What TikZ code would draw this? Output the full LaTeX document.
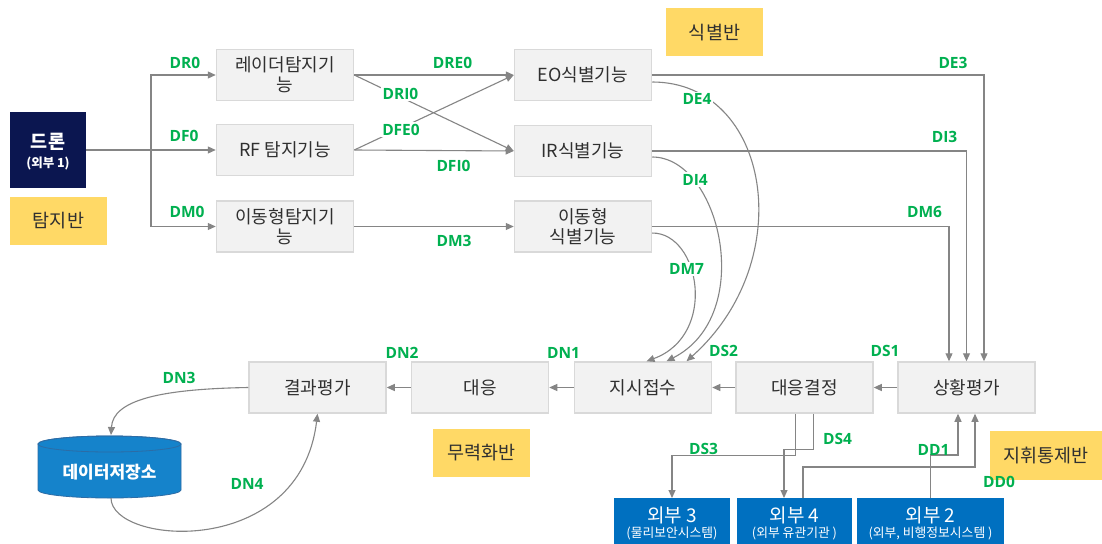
\documentclass[tikz,border=0pt]{standalone}
\usepackage{fontspec}
\setmainfont{Noto Sans CJK KR}
\newfontfamily\lblfont{Open Sans}
\usetikzlibrary{arrows.meta}
\definecolor{boxfill}{HTML}{F2F2F2}
\definecolor{boxline}{HTML}{D9D9D9}
\definecolor{linkgray}{HTML}{858585}
\definecolor{lblgreen}{HTML}{00B050}
\definecolor{teamgold}{HTML}{FFD966}
\definecolor{dronenavy}{HTML}{0B1650}
\definecolor{extblue}{HTML}{0070C0}
\definecolor{cylfill}{HTML}{1583CB}
\definecolor{cylline}{HTML}{2C6CA6}
\definecolor{boxtext}{HTML}{303030}
\begin{document}
\begin{tikzpicture}[x=1pt,y=-1pt,
  fn/.style={draw=boxline, line width=1.5pt, fill=boxfill, minimum width=137pt, minimum height=51pt, inner sep=0pt, align=center, text=boxtext, font=\fontsize{18}{20}\selectfont},
  team/.style={fill=teamgold, minimum width=97pt, minimum height=48pt, inner sep=0pt, text=boxtext, font=\fontsize{18.5}{20}\selectfont},
  extbox/.style={fill=extblue, minimum height=50pt, inner sep=0pt, anchor=north},
  exttitle/.style={text=white, inner sep=0pt, font=\fontsize{19}{20}\selectfont},
  extsub/.style={text=white, inner sep=0pt, font=\fontsize{12.8}{14}\selectfont},
  link/.style={draw=linkgray, line width=1.1pt, -{Triangle[length=8pt,width=7pt]}},
  plainlink/.style={draw=linkgray, line width=1.1pt},
  lbl/.style={text=lblgreen, inner sep=1pt, font=\lblfont\bfseries\fontsize{15.5}{18}\selectfont},
  onlbl/.style={lbl, fill=white, inner sep=1.5pt},
]
\fill[white] (0,0) rectangle (1102,543);
\useasboundingbox (0,0) rectangle (1102,543);

% drone
\node[fill=dronenavy, minimum width=76pt, minimum height=76pt, inner sep=0pt] (drone) at (48,150) {};
\node[text=white, inner sep=0pt, font=\bfseries\fontsize{18.5}{20}\selectfont] (droneT) at (48,142) {드론};
\node[text=white, inner sep=0pt, font=\bfseries\fontsize{12.5}{14}\selectfont] (droneS) at (48,163) {(외부 1)};

% team labels
\node[team] (tamji) at (58.5,221) {탐지반};
\node[team] (sikb) at (714.5,32.5) {식별반};
\node[team] (muryeok) at (481.5,453) {무력화반};
\node[team, minimum width=112pt, minimum height=49pt] (jihwi) at (1046,455.5) {지휘통제반};

% function boxes
\node[fn] (radar) at (285,75) {레이더탐지기\\능};
\node[fn] (rf) at (285,150) {RF 탐지기능};
\node[fn] (mobdet) at (285,226.5) {이동형탐지기\\능};
\node[fn] (eo) at (583,75) {EO식별기능};
\node[fn] (ir) at (583,151) {IR식별기능};
\node[fn] (mobid) at (583,226.5) {이동형\\식별기능};
\node[fn] (sit) at (966.5,387.5) {상황평가};
\node[fn] (dec) at (804.5,387.5) {대응결정};
\node[fn] (rcv) at (643,387.5) {지시접수};
\node[fn] (resp) at (480,387.5) {대응};
\node[fn] (eval) at (317.5,387.5) {결과평가};

% external boxes
\node[extbox, minimum width=116pt] (ext3) at (672,498) {};
\node[extbox, minimum width=115pt] (ext4) at (794.5,498) {};
\node[extbox, minimum width=147pt] (ext2) at (930.5,498) {};
\node[exttitle] (ext3t) at (672,515) {외부 3};
\node[extsub] (ext3s) at (672,533.5) {(물리보안시스템)};
\node[exttitle] (ext4t) at (794.5,515) {외부 4};
\node[extsub] (ext4s) at (794.5,533.5) {(외부 유관기관 )};
\node[exttitle] (ext2t) at (930.5,515) {외부 2};
\node[extsub] (ext2s) at (930.5,533.5) {(외부, 비행정보시스템 )};

% data store cylinder
\path[fill=cylfill, draw=cylline, line width=0.8pt] (38,444) -- (38,490)
  arc[start angle=180, end angle=360, x radius=71.5pt, y radius=8pt] -- (181,444)
  arc[start angle=0, end angle=180, x radius=71.5pt, y radius=8pt] -- cycle;
\draw[cylline, line width=0.8pt] (109.5,444) ellipse [x radius=71.5pt, y radius=8pt];
\node[text=white, inner sep=0pt, font=\bfseries\fontsize{17}{18}\selectfont] (store) at (109.5,472) {데이터저장소};
\coordinate (cyltop) at (111,435);
\coordinate (cylbot) at (111,498);

% detection connectors
\coordinate (split) at (151,150);
\draw[plainlink] (drone.east) -- (split);
\draw[link] (split) |- (radar.west);
\draw[link] (split) -- (rf.west);
\draw[link] (split) |- (mobdet.west);

\draw[link] (radar.east) -- (eo.west);
\draw[link] (radar.east) -- (ir.west);
\draw[link] (rf.east) -- (eo.west);
\draw[link] (rf.east) -- (ir.west);
\draw[link] (mobdet.east) -- (mobid.west);

% identification to situation
\draw[link] (eo.east) -| ([xshift=17.5pt]sit.north);
\draw[link] (ir.east) -| (sit.north);
\draw[link] (mobid.east) -| ([xshift=-17.5pt]sit.north);

% curved to reception
\draw[link] ([yshift=-7pt]eo.east) .. controls (770,82) and (800,260) .. ([xshift=43.5pt]rcv.north);
\draw[link] ([yshift=-6pt]ir.east) .. controls (720,157) and (757,315) .. ([xshift=23.5pt]rcv.north);
\draw[link] ([yshift=-6.5pt]mobid.east) .. controls (700,233) and (718,335) .. ([xshift=3.5pt]rcv.north);

% bottom row chain
\draw[link] (sit.west) -- (dec.east);
\draw[link] (dec.west) -- (rcv.east);
\draw[link] (rcv.west) -- (resp.east);
\draw[link] (resp.west) -- (eval.east);

% data store loop
\draw[link] (eval.west) .. controls (160,389) and (113,400) .. (cyltop);
\draw[link] (cylbot) .. controls (111,545) and (300,560) .. (eval.south);

% decision to externals
\draw[link] ([xshift=-9pt]dec.south) -- ++(0,42) -| (ext3.north);
\draw[link] ([xshift=9pt]dec.south) -- ++(0,36) -| ([xshift=-10.5pt]ext4.north);
\draw[link] ([xshift=8.5pt]ext4.north) -- ++(0,-31) -| ([xshift=8.5pt]sit.south);
\draw[link] (ext2.north) -- ++(0,-43) -| ([xshift=-8.5pt]sit.south);

% labels
\node[lbl] (lDR0) at (185,63) {DR0};
\node[lbl] (lDF0) at (184,136) {DF0};
\node[lbl] (lDM0) at (187,212) {DM0};
\node[lbl] (lDRE0) at (452.5,63) {DRE0};
\node[onlbl] (lDRI0) at (400.5,94) {DRI0};
\node[onlbl] (lDFE0) at (401,129.5) {DFE0};
\node[lbl] (lDFI0) at (453.5,165.5) {DFI0};
\node[lbl] (lDM3) at (454,240.5) {DM3};
\node[lbl] (lDE3) at (953,63) {DE3};
\node[lbl] (lDI3) at (944.5,137) {DI3};
\node[lbl] (lDM6) at (924.5,212) {DM6};
\node[onlbl] (lDE4) at (697,99) {DE4};
\node[onlbl] (lDI4) at (695,179.5) {DI4};
\node[onlbl] (lDM7) at (686.5,269) {DM7};
\node[lbl] (lDS2) at (723.5,351) {DS2};
\node[lbl] (lDS1) at (885,351) {DS1};
\node[lbl] (lDN1) at (563.5,352.5) {DN1};
\node[lbl] (lDN2) at (402,353) {DN2};
\node[lbl] (lDN3) at (179,378) {DN3};
\node[lbl] (lDN4) at (247,484) {DN4};
\node[lbl] (lDS3) at (703.5,449) {DS3};
\node[lbl] (lDS4) at (837.5,439) {DS4};
\node[lbl] (lDD1) at (933.5,449.5) {DD1};
\node[lbl] (lDD0) at (999,482) {DD0};
\end{tikzpicture}
\end{document}
